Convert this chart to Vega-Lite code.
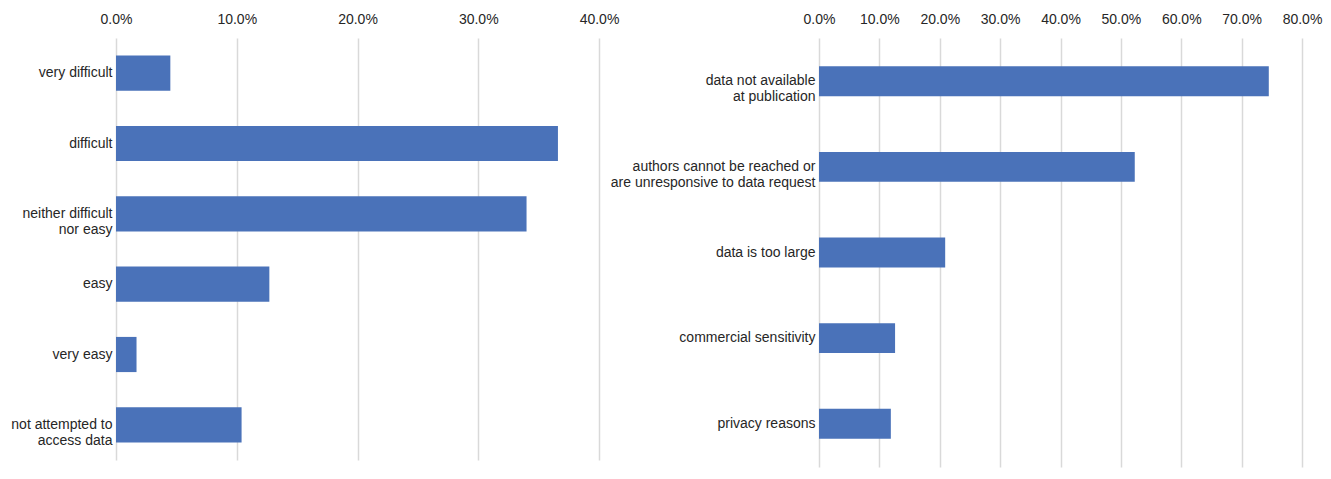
{
  "$schema": "https://vega.github.io/schema/vega-lite/v6.json",
  "background": "white",
  "padding": {"left": 5, "top": 12, "right": 20, "bottom": 10},
  "spacing": 220,
  "bounds": "flush",
  "datasets": {
    "access": [
      {"label": "very difficult", "share": 0.045},
      {"label": "difficult", "share": 0.366},
      {"label": "neither difficult|nor easy", "share": 0.340},
      {"label": "easy", "share": 0.127},
      {"label": "very easy", "share": 0.017},
      {"label": "not attempted to|access data", "share": 0.104}
    ],
    "reasons": [
      {"label": "data not available|at publication", "share": 0.745},
      {"label": "authors cannot be reached or|are unresponsive to data request", "share": 0.523},
      {"label": "data is too large", "share": 0.209},
      {"label": "commercial sensitivity", "share": 0.126},
      {"label": "privacy reasons", "share": 0.119}
    ]
  },
  "config": {
    "view": {"stroke": null},
    "font": "Liberation Sans",
    "axis": {
      "labelFont": "Liberation Sans",
      "labelFontSize": 14,
      "labelColor": "#262626",
      "domain": false,
      "ticks": false,
      "title": null
    },
    "axisX": {
      "orient": "top",
      "grid": true,
      "gridColor": "#d9d9d9",
      "gridWidth": 1.5,
      "labelPadding": 12,
      "labelFlush": false,
      "labelOverlap": false,
      "format": ".1%"
    },
    "axisY": {
      "grid": false,
      "labelPadding": 4,
      "labelLineHeight": 16,
      "labelLimit": 300,
      "labelExpr": "split(datum.value, '|')"
    }
  },
  "hconcat": [
    {
      "width": 483,
      "height": 422,
      "data": {"name": "access"},
      "mark": {"type": "bar", "color": "#4a72b9"},
      "encoding": {
        "y": {
          "field": "label",
          "type": "nominal",
          "sort": null,
          "scale": {"paddingInner": 0.5, "paddingOuter": 0.25},
          "axis": {"minExtent": 111, "maxExtent": 111}
        },
        "x": {
          "field": "share",
          "type": "quantitative",
          "scale": {"domain": [0, 0.4], "nice": false},
          "axis": {"values": [0, 0.1, 0.2, 0.3, 0.4]}
        }
      }
    },
    {
      "width": 483,
      "height": 429,
      "data": {"name": "reasons"},
      "mark": {"type": "bar", "color": "#4a72b9"},
      "encoding": {
        "y": {
          "field": "label",
          "type": "nominal",
          "sort": null,
          "scale": {"paddingInner": 0.65, "paddingOuter": 0.33}
        },
        "x": {
          "field": "share",
          "type": "quantitative",
          "scale": {"domain": [0, 0.8], "nice": false},
          "axis": {"values": [0, 0.1, 0.2, 0.3, 0.4, 0.5, 0.6, 0.7, 0.8]}
        }
      }
    }
  ]
}
